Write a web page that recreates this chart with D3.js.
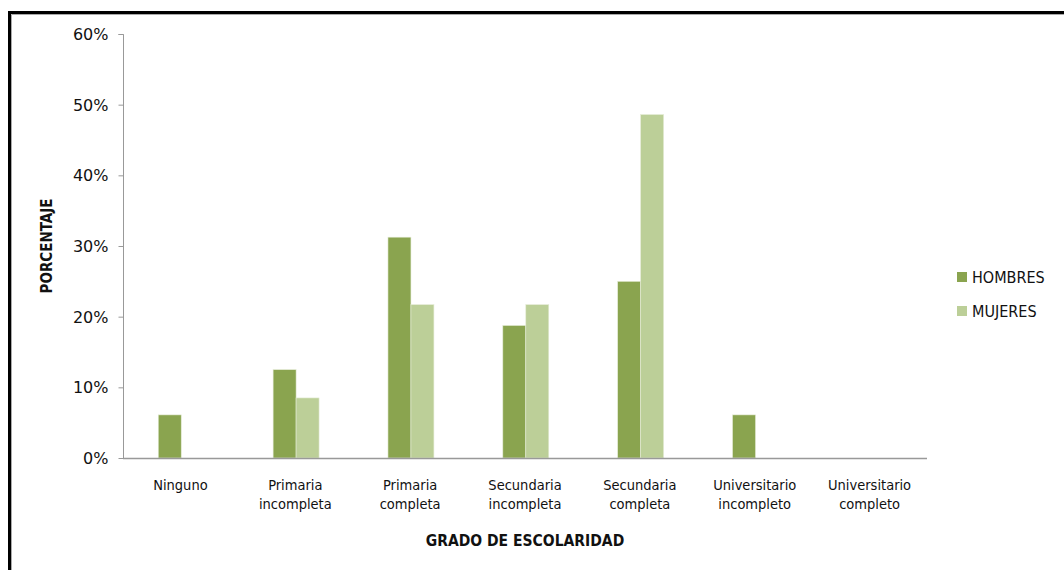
<!DOCTYPE html>
<html>
<head>
<meta charset="utf-8">
<script src="https://d3js.org/d3.v7.min.js"></script>
<style>
body { margin: 0; background: #fff; }
text { font-family: "Liberation Sans Narrow", "DejaVu Sans Condensed", "Open Sans", sans-serif; }
</style>
</head>
<body>
<svg id="chart" width="1064" height="570"></svg>
<script>
width = 1064;
height = 570;

// data
var categories = [
	['Ninguno'],
	['Primaria', 'incompleta'],
	['Primaria', 'completa'],
	['Secundaria', 'incompleta'],
	['Secundaria', 'completa'],
	['Universitario', 'incompleto'],
	['Universitario', 'completo']
];
var seriesNames = ['HOMBRES', 'MUJERES'];
var hombres = [6.1, 12.5, 31.25, 18.75, 25, 6.1, 0];
var mujeres = [0, 8.5, 21.7, 21.7, 48.6, 0, 0];
var yTicks = [0, 10, 20, 30, 40, 50, 60];
var colors = ['#8AA44F', '#BCCF98'];

const svg = d3.select('#chart');

// frame
svg.append('rect').attr('x', 0).attr('y', 0).attr('width', width).attr('height', height).attr('fill', '#fff');
svg.append('path')
	.attr('d', `M9.5,${height} V12.5 H${width}`)
	.attr('fill', 'none').attr('stroke', '#000').attr('stroke-width', 3);
svg.append('path')
	.attr('d', `M11.5,${height} V14.5 H${width}`)
	.attr('fill', 'none').attr('stroke', '#aaa').attr('stroke-width', 1);

const plotLeft = 123, plotRight = 927, plotTop = 34, plotBottom = 458;

const x = d3.scaleBand()
	.domain(d3.range(categories.length))
	.range([plotLeft, plotRight])
	.padding(0);

const xSub = d3.scaleBand()
	.domain(seriesNames)
	.range([0, x.bandwidth()])
	.paddingInner(0)
	.paddingOuter(1.5);

const y = d3.scaleLinear().domain([0, 60]).range([plotBottom, plotTop]);

// bars
const values = [hombres, mujeres];
seriesNames.forEach(function(name, s){
	svg.append('g').selectAll('rect')
		.data(values[s])
		.join('rect')
			.attr('x', (d, i) => x(i) + xSub(name) + 0.8)
			.attr('y', d => y(d))
			.attr('width', xSub.bandwidth())
			.attr('height', d => y(0) - y(d))
			.attr('fill', colors[s])
			.attr('stroke', d => d > 0 ? '#e4ebd6' : 'none')
			.attr('stroke-width', 0.6);
});

// y axis
const yAxis = svg.append('g')
	.attr('transform', `translate(${plotLeft + 0.5},0)`)
	.call(d3.axisLeft(y).tickValues(yTicks).tickSize(5).tickFormat(d => d + '%'));
yAxis.select('.domain').attr('stroke', '#999').attr('d', `M-5,${plotTop + 0.5}H0V${plotBottom}`);
yAxis.selectAll('.tick line').attr('stroke', '#999');
yAxis.selectAll('.tick text')
	.attr('x', -15)
	.attr('dy', '0.35em')
	.style('font-family', 'Tahoma, "DejaVu Sans", sans-serif')
	.style('font-size', '16px')
	.attr('fill', '#111');

// x axis line
svg.append('line')
	.attr('x1', plotLeft).attr('x2', plotRight)
	.attr('y1', plotBottom + 0.5).attr('y2', plotBottom + 0.5)
	.attr('stroke', '#999').attr('stroke-width', 1.5);

// category labels
const catG = svg.append('g');
categories.forEach(function(lines, i){
	const t = catG.append('text')
		.attr('x', x(i) + x.bandwidth() / 2)
		.attr('y', 490)
		.attr('text-anchor', 'middle')
		.style('font-size', '14.5px')
		.attr('fill', '#111');
	lines.forEach(function(l, j){
		t.append('tspan')
			.attr('x', x(i) + x.bandwidth() / 2)
			.attr('dy', j === 0 ? 0 : 19)
			.text(l);
	});
});

// axis titles
svg.append('text')
	.attr('x', 525).attr('y', 546)
	.attr('text-anchor', 'middle')
	.style('font-size', '15.5px')
	.style('font-weight', 'bold')
	.attr('fill', '#111')
	.text('GRADO DE ESCOLARIDAD');

svg.append('text')
	.attr('transform', 'translate(52,246) rotate(-90)')
	.attr('text-anchor', 'middle')
	.style('font-size', '15px')
	.style('font-weight', 'bold')
	.attr('fill', '#111')
	.text('PORCENTAJE');

// legend
const legend = svg.append('g').attr('transform', 'translate(957,272)');
seriesNames.forEach(function(name, s){
	const g = legend.append('g').attr('transform', `translate(0,${s * 34})`);
	g.append('rect').attr('width', 10).attr('height', 10).attr('fill', colors[s]);
	g.append('text')
		.attr('x', 15).attr('y', 11)
		.style('font-size', '16px')
		.attr('fill', '#111')
		.text(name);
});
</script>
</body>
</html>
